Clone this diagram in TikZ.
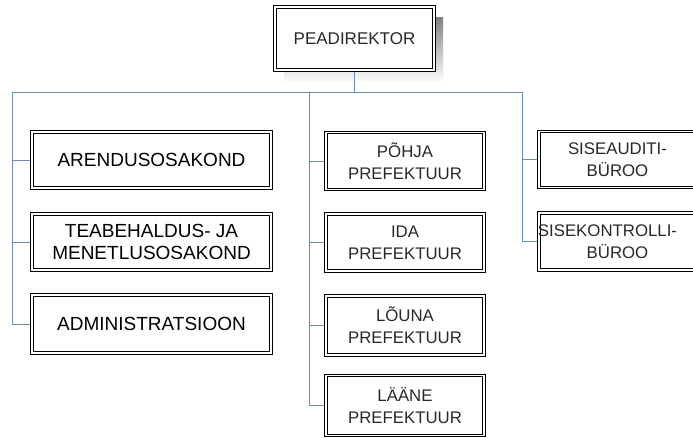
\documentclass[tikz,border=0pt]{standalone}
\usepackage{fontspec}
\setmainfont{Liberation Sans}
\definecolor{conn}{RGB}{105,140,180}
\definecolor{shade}{RGB}{200,200,200}
\definecolor{txtgray}{RGB}{40,40,40}
\pgfdeclarelayer{bg}
\pgfsetlayers{bg,main}
\begin{document}
\begin{tikzpicture}[x=1pt,y=-1pt,
  box/.style={draw=black, double=white, double distance=1.6pt, line width=1.1pt,
    fill=white, inner sep=0pt, align=center, anchor=center},
  leftbox/.style={box, minimum width=239pt, minimum height=56pt,
    font=\fontsize{19}{21.7}\selectfont, text=black},
  midbox/.style={box, minimum width=158pt, minimum height=57pt,
    font=\fontsize{16.8}{21.7}\selectfont, text=txtgray},
  rightbox/.style={box, minimum width=157pt, minimum height=56pt,
    font=\fontsize{16.8}{21.7}\selectfont, text=txtgray},
  conline/.style={draw=conn, line width=0.9pt}]
\useasboundingbox (0,0) rectangle (693,437);
\clip (0,0) rectangle (693,437);

\node[box, minimum width=159pt, minimum height=63pt,
  font=\fontsize{17}{20}\selectfont, text=txtgray] (top) at (354.5,38.5) {PEADIREKTOR};

% left column
\node[leftbox] (a1) at (151.5,160) {ARENDUSOSAKOND};
\node[leftbox] (a2) at (151.5,242) {TEABEHALDUS- JA\\MENETLUSOSAKOND};
\node[leftbox, minimum height=58pt] (a3) at (151.5,324) {ADMINISTRATSIOON};

% middle column
\node[midbox] (m1) at (405,161) {PÕHJA\\PREFEKTUUR};
\node[midbox] (m2) at (405,242.5) {IDA\\PREFEKTUUR};
\node[midbox, minimum height=59pt] (m3) at (405,325.5) {LÕUNA\\PREFEKTUUR};
\node[midbox, minimum height=60pt] (m4) at (405,405.5) {LÄÄNE\\PREFEKTUUR};

% right column
\node[rightbox] (r1) at (617.5,159.5) {SISEAUDITI-\\BÜROO};
\node[rightbox, minimum height=57pt] (r2) at (617.5,241.5)
  {\makebox[0pt]{SISEKONTROLLI-\hspace{20pt}}\\BÜROO};

% connectors
\coordinate (busL) at (12,92);
\coordinate (busM) at (309,92);
\coordinate (busR) at (522,92);
\begin{pgfonlayer}{bg}
\fill[white] (0,0) rectangle (693,437);
% shadow of top box
\fill[shade] (284,17) rectangle (443,83);
\draw[conline] (top.south) -- (top.south |- busL);
\draw[conline] (busL) -- (busR);
\draw[conline] (busL) |- (a1.west);
\draw[conline] (busL) |- (a2.west);
\draw[conline] (busL) |- (a3.west);
\draw[conline] (busM) |- (m1.west);
\draw[conline] (busM) |- (m2.west);
\draw[conline] (busM) |- (m3.west);
\draw[conline] (busM) |- (m4.west);
\draw[conline] (busR) |- (r1.west);
\draw[conline] (busR) |- (r2.west);
\end{pgfonlayer}
\end{tikzpicture}
\end{document}
